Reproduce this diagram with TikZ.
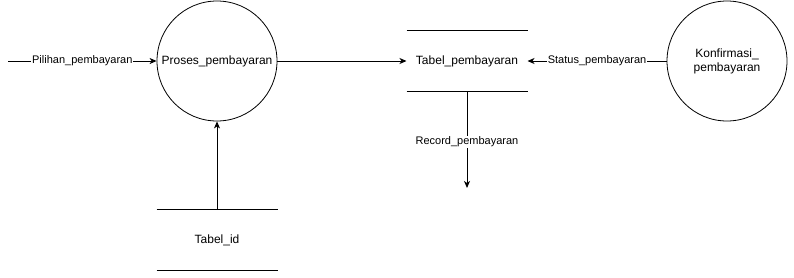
\documentclass[tikz,border=0pt]{standalone}
\usepackage{fontspec}
\setmainfont{Liberation Sans}
\usetikzlibrary{arrows.meta}

\begin{document}
\begin{tikzpicture}[x=1pt,y=-1pt,line width=1pt,
  proses/.style={circle,draw,line width=0.8pt,minimum size=120pt,inner sep=0pt,align=center,font=\fontsize{12}{14}\selectfont},
  simpan/.style={minimum width=120pt,minimum height=60pt,inner sep=0pt,font=\fontsize{12}{14}\selectfont},
  alir/.style={-{Stealth[length=7pt,width=6pt,inset=2pt]}},
  lbl/.style={fill=white,inner sep=1pt,font=\fontsize{11}{13}\selectfont}]
\useasboundingbox (0,0) rectangle (794,277);
% proses
\node[proses] (proses) at (217,61) {Proses\_pembayaran};
\node[proses] (konfirmasi) at (727,61) {Konfirmasi\_\\pembayaran};
% data store
\node[simpan] (tbayar) at (467,61) {Tabel\_pembayaran};
\node[simpan] (tid) at (217,240) {Tabel\_id};
\draw (tbayar.north west) -- (tbayar.north east);
\draw (tbayar.south west) -- (tbayar.south east);
\draw (tid.north west) -- (tid.north east);
\draw (tid.south west) -- (tid.south east);
% aliran data
\coordinate (masuk) at (8,61);
\coordinate (keluar) at (467,188);
\draw[alir] (masuk) -- node[lbl] {Pilihan\_pembayaran} (proses);
\draw[alir] (proses) -- (tbayar);
\draw[alir] (konfirmasi) -- node[lbl] {Status\_pembayaran} (tbayar);
\draw[alir] (tbayar) -- node[lbl,pos=0.52] {Record\_pembayaran} (keluar);
\draw[alir] (tid) -- (proses);
\end{tikzpicture}
\end{document}
